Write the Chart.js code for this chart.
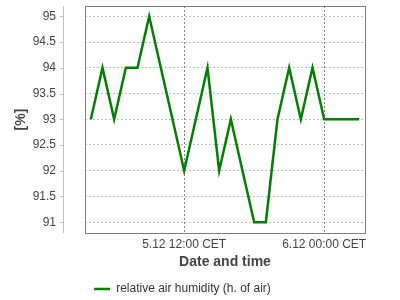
<!DOCTYPE html>
<html>
<head>
<meta charset="utf-8">
<script src="https://cdn.jsdelivr.net/npm/chart.js@4"></script>
<style>
  html, body { margin: 0; padding: 0; background: #fff; }
  #wrap { width: 400px; height: 300px; }
</style>
</head>
<body>
<div id="wrap"><canvas id="myChart" width="400" height="300"></canvas></div>
<script>
// hours from 5.12 04:00 to 6.12 03:00
const hours = [0, 1, 2, 3, 4, 5, 6, 7, 8, 9, 10, 11, 12, 13, 14, 15, 16, 17, 18, 19, 20, 21, 22, 23];
const humidity = [93, 94, 93, 94, 94, 95, 94, 93, 92, 93, 94, 92, 93, 92, 91, 91, 93, 94, 93, 94, 93, 93, 93, 93];
const xTickHours = [8, 20];
const xTickLabels = ["5.12 12:00 CET", "6.12 00:00 CET"];
const yTicks = [91, 91.5, 92, 92.5, 93, 93.5, 94, 94.5, 95];
const seriesLabel = "relative air humidity (h. of air)";

const fontFamily = "'Liberation Sans', Arial, sans-serif";

// frame around the plot + detached y axis line with its tick marks
const framePlugin = {
	id: "frame",
	afterDraw(chart) {
		const { ctx, chartArea } = chart;
		const yScale = chart.scales.y;
		ctx.save();
		ctx.strokeStyle = "#c0c0c0";
		ctx.lineWidth = 1;
		ctx.beginPath();
		ctx.moveTo(63.5, chartArea.top);
		ctx.lineTo(63.5, chartArea.bottom);
		yScale.ticks.forEach((t) => {
			const py = Math.round(yScale.getPixelForValue(t.value)) + 0.5;
			ctx.moveTo(60, py);
			ctx.lineTo(63.5, py);
		});
		ctx.stroke();
		ctx.strokeStyle = "#808080";
		ctx.strokeRect(
			Math.round(chartArea.left) + 0.5,
			Math.round(chartArea.top) + 0.5,
			Math.round(chartArea.right - chartArea.left),
			Math.round(chartArea.bottom - chartArea.top)
		);
		ctx.restore();
	},
};

const ctx = document.getElementById("myChart").getContext("2d");
new Chart(ctx, {
	type: "line",
	data: {
		datasets: [
			{
				label: seriesLabel,
				data: hours.map((h, i) => ({ x: h, y: humidity[i] })),
				borderColor: "#008000",
				backgroundColor: "#008000",
				borderWidth: 2.5,
				pointRadius: 0,
				tension: 0,
			},
		],
	},
	plugins: [framePlugin],
	options: {
		responsive: false,
		animation: false,
		layout: { padding: { top: 6, right: 35, left: 0, bottom: -5 } },
		plugins: {
			tooltip: { enabled: false },
			legend: {
				position: "bottom",
				labels: {
					usePointStyle: true,
					pointStyle: "line",
					pointStyleWidth: 16,
					padding: 5,
					color: "#333",
					font: { family: fontFamily, size: 12 },
				},
			},
		},
		scales: {
			x: {
				type: "linear",
				min: -0.5,
				max: 23.5,
				afterBuildTicks: (scale) => {
					scale.ticks = xTickHours.map((v) => ({ value: v }));
				},
				afterFit: (scale) => {
					scale.height = 45;
				},
				ticks: {
					autoSkip: false,
					maxRotation: 0,
					padding: 4,
					color: "#444",
					font: { family: fontFamily, size: 12 },
					callback: (value, index) => xTickLabels[index],
				},
				grid: {
					drawTicks: false,
					color: "#808080",
					lineWidth: 1,
				},
				border: { display: false, dash: [2, 2] },
				title: {
					display: true,
					text: "Date and time",
					color: "#444",
					font: { family: fontFamily, size: 14, weight: "bold" },
					padding: { top: 2, bottom: 7 },
				},
			},
			y: {
				min: 90.79,
				max: 95.2,
				afterBuildTicks: (scale) => {
					scale.ticks = yTicks.map((v) => ({ value: v }));
				},
				afterFit: (scale) => {
					scale.width = 85;
					scale.paddingTop = 0;
					scale.paddingBottom = 0;
				},
				ticks: {
					padding: 29,
					color: "#444",
					font: { family: fontFamily, size: 12 },
					callback: (value) => String(value),
				},
				grid: {
					drawTicks: false,
					color: "#c0c0c0",
					lineWidth: 1,
				},
				border: { display: false, dash: [2, 2] },
				title: {
					display: true,
					text: "[%]",
					color: "#444",
					font: { family: fontFamily, size: 14, weight: "bold" },
					padding: { top: 13 },
				},
			},
		},
	},
});
</script>
</body>
</html>
